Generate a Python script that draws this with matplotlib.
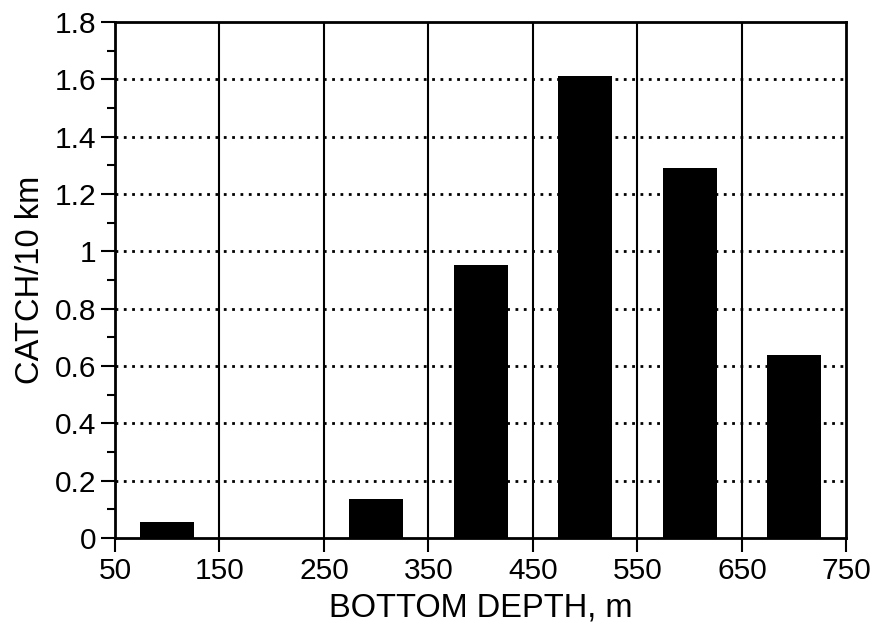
import matplotlib
matplotlib.use("Agg")
import matplotlib.pyplot as plt
from matplotlib.ticker import MultipleLocator

plt.rcParams['font.family'] = ['Liberation Sans', 'DejaVu Sans']

depths = [100, 200, 300, 400, 500, 600, 700]
catch = [0.056, 0.0, 0.134, 0.951, 1.611, 1.292, 0.637]
xticks = [50, 150, 250, 350, 450, 550, 650, 750]
yticks = [0, 0.2, 0.4, 0.6, 0.8, 1, 1.2, 1.4, 1.6, 1.8]
yticklabels = ['0', '0.2', '0.4', '0.6', '0.8', '1', '1.2', '1.4', '1.6', '1.8']

fig = plt.figure(figsize=(8.78, 6.32), dpi=100)
ax = fig.add_axes([0.131, 0.149, 0.833, 0.816])

for x in xticks[1:-1]:
    ax.axvline(x, color='black', lw=1.5, zorder=1)
for y in yticks[1:-1]:
    ax.axhline(y, color='black', lw=2.0, ls=(0, (1.0, 2.0)), zorder=1)

ax.bar(depths, catch, width=52, color='black', zorder=2)

ax.set_xlim(50, 750)
ax.set_ylim(0, 1.8)
ax.set_xticks(xticks)
ax.set_yticks(yticks)
ax.set_yticklabels(yticklabels)
ax.yaxis.set_minor_locator(MultipleLocator(0.1))
ax.tick_params(axis='both', which='major', direction='out', length=10, width=1.5, labelsize=21.5)
ax.tick_params(axis='x', which='major', pad=4)
ax.tick_params(axis='y', which='minor', direction='out', length=6, width=1.5)
for s in ax.spines.values():
    s.set_linewidth(2)

ax.set_xlabel('BOTTOM DEPTH, m', fontsize=23.5, labelpad=5)
ax.set_ylabel('CATCH/10 km', fontsize=23.5, labelpad=6)

fig.savefig('out.png', dpi=100)
